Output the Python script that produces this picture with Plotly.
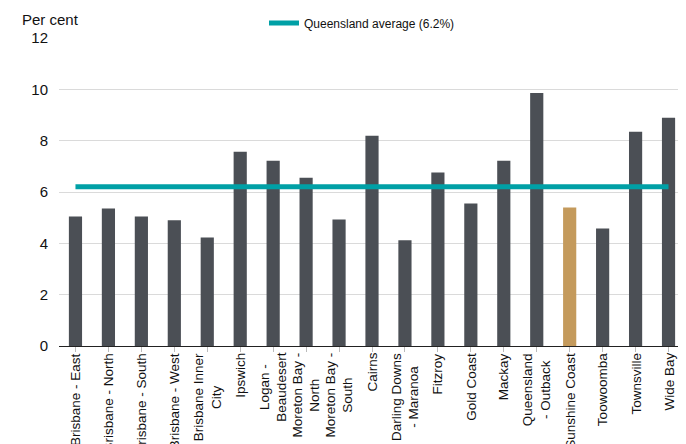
import plotly.graph_objects as go

categories = [
    "Brisbane - East", "Brisbane - North", "Brisbane - South", "Brisbane - West",
    "Brisbane Inner<br>City", "Ipswich", "Logan -<br>Beaudesert", "Moreton Bay -<br>North",
    "Moreton Bay -<br>South", "Cairns", "Darling Downs<br>- Maranoa", "Fitzroy",
    "Gold Coast", "Mackay", "Queensland<br>- Outback", "Sunshine Coast",
    "Toowoomba", "Townsville", "Wide Bay",
]
values = [5.05, 5.36, 5.05, 4.90, 4.23, 7.57, 7.22, 6.56, 4.93, 8.19,
          4.12, 6.76, 5.55, 7.22, 9.86, 5.40, 4.58, 8.35, 8.89]
highlight = "Sunshine Coast"
qld_average = 6.2
legend_label = "Queensland average (6.2%)"
y_ticks = [0, 2, 4, 6, 8, 10, 12]

FONT = "Arial, 'Liberation Sans', sans-serif"
BAR = "#4B4F55"
HIGHLIGHT = "#C49A5C"
TEAL = "#00A0A6"

# figure is drawn inside the page's default 8px body margin
W, H = 678, 436
ML, MR, MT, MB = 51, 1, 30, 98
PW, PH = W - ML - MR, H - MT - MB

x_idx = list(range(len(categories)))
colors = [HIGHLIGHT if c == highlight else BAR for c in categories]

fig = go.Figure()
fig.add_trace(go.Bar(
    x=x_idx, y=values, marker=dict(color=colors, line=dict(width=0)),
    showlegend=False, hoverinfo="y",
))
fig.add_trace(go.Scatter(
    x=[x_idx[0], x_idx[-1]], y=[qld_average, qld_average], mode="lines",
    line=dict(color=TEAL, width=5), name=legend_label, showlegend=True,
))

for i, c in enumerate(categories):
    fig.add_annotation(
        x=i, y=0, xref="x", yref="y", text=c, textangle=-90,
        showarrow=False, xanchor="center", yanchor="top", yshift=-5,
        align="center", font=dict(family=FONT, size=13.5, color="#111111"),
    )

fig.add_annotation(
    x=(42 - ML) / PW, y=(MT + PH - 12) / PH, xref="paper", yref="paper",
    text="Per cent", showarrow=False, xanchor="center", yanchor="middle",
    font=dict(family=FONT, size=15, color="#111111"),
)

fig.update_layout(
    width=W, height=H,
    margin=dict(l=ML, r=MR, t=MT, b=MB, autoexpand=False),
    paper_bgcolor="white", plot_bgcolor="white",
    bargap=0.6,
    font=dict(family=FONT, size=14, color="#111111"),
    legend=dict(
        orientation="h", x=(256 - ML) / PW, y=(MT + PH - 15) / PH,
        xanchor="left", yanchor="middle",
        font=dict(family=FONT, size=12, color="#111111"),
        bgcolor="rgba(0,0,0,0)", itemwidth=30,
    ),
    xaxis=dict(
        range=[-0.5, len(categories) - 0.5], tickmode="array", tickvals=x_idx,
        ticktext=[""] * len(categories), showline=True, linecolor="#222222",
        linewidth=1, ticks="outside", tickson="boundaries", ticklen=5,
        tickcolor="#BBBBBB", showgrid=False, zeroline=False, automargin=False,
    ),
    yaxis=dict(
        range=[0, 12], tickmode="array", tickvals=y_ticks,
        showgrid=True, gridcolor="#DADADA", gridwidth=1, zeroline=False,
        ticks="", ticklabelstandoff=10, automargin=False,
        tickfont=dict(family=FONT, size=15, color="#111111"),
    ),
)

fig.write_html("out.html")
